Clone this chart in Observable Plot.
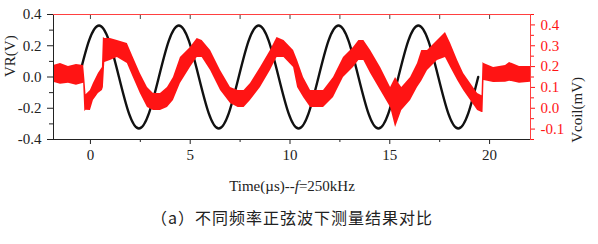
<!DOCTYPE html>
<html><head><meta charset="utf-8">
<script src="https://cdn.jsdelivr.net/npm/d3@7"></script>
<script src="https://cdn.jsdelivr.net/npm/@observablehq/plot@0.6"></script>
<style>body{margin:0;background:#fff;} svg text{font-family:"Liberation Serif","Times New Roman",serif;}</style>
</head><body><div id="chart"></div>
<script>
// Tick values
const xMajor = [0, 5, 10, 15, 20];
const xMinor = [2.5, 7.5, 12.5, 17.5];
const xTop = [0, 2.5, 5, 7.5, 10, 12.5, 15, 17.5, 20];
const leftMajor = [-0.4, -0.2, 0, 0.2, 0.4];
const leftMinor = [-0.3, -0.1, 0.1, 0.3];
const rightMajor = [-0.1, 0, 0.1, 0.2, 0.3, 0.4];
const rightMinor = [-0.15, -0.05, 0.05, 0.15, 0.25, 0.35, 0.45];

// VR(V): black excitation trace (read points)
const vrT = [-0.57,-0.07,0.43,0.93,1.43,1.93,2.43,2.93,3.43,3.93,4.43,4.93,5.43,5.93,6.43,6.93,7.43,7.93,8.43,8.93,9.43,9.93,10.43,10.93,11.43,11.93,12.43,12.93,13.43,13.93,14.43,14.93,15.43,15.93,16.43,16.93,17.43,17.93,18.43,18.93,19.43];
const vrV = [0,0.233,0.33,0.233,0,-0.233,-0.33,-0.233,0,0.233,0.33,0.233,0,-0.233,-0.33,-0.233,0,0.233,0.33,0.233,0,-0.233,-0.33,-0.233,0,0.233,0.33,0.233,0,-0.233,-0.33,-0.233,0,0.233,0.33,0.233,0,-0.233,-0.33,-0.233,0];

// Vcoil(mV): red noisy trace, lower / upper envelope of the band
const coilT = [-1.85,-1.5,-1.1,-0.7,-0.34,-0.28,-0.22,0.0,0.15,0.40,0.60,0.65,0.72,1.0,1.35,1.85,2.15,2.5,2.86,3.16,3.51,3.86,4.16,4.51,5.01,5.35,5.6,6.02,6.52,7.02,7.4,7.7,8.02,8.52,9.02,9.35,9.7,10.18,10.38,10.68,11.03,11.38,11.68,12.18,12.68,13.18,13.45,13.7,14.04,14.54,15.04,15.29,15.45,15.6,16.04,16.39,16.6,16.89,17.39,17.79,18.05,18.4,18.7,19.05,19.4,19.62,19.67,19.72,20.2,20.8,21.0,21.5,22.05];
const coilLo = [0.125,0.115,0.12,0.11,0.12,-0.015,-0.01,-0.011,0.037,0.071,0.085,0.10,0.22,0.229,0.244,0.215,0.148,0.071,0.004,-0.011,-0.011,0.004,0.037,0.119,0.196,0.244,0.244,0.181,0.085,0.023,0.004,0.004,0.037,0.10,0.181,0.244,0.244,0.196,0.10,0.052,0.004,0.004,0.004,0.052,0.148,0.196,0.229,0.229,0.167,0.085,0.004,-0.092,-0.05,-0.011,0.037,0.10,0.13,0.181,0.229,0.244,0.196,0.133,0.085,0.037,-0.011,-0.02,-0.02,0.133,0.124,0.125,0.13,0.12,0.125];
const coilHi = [0.205,0.215,0.20,0.21,0.205,0.14,0.065,0.085,0.119,0.167,0.196,0.34,0.335,0.335,0.325,0.311,0.244,0.167,0.10,0.071,0.071,0.10,0.148,0.244,0.292,0.335,0.325,0.277,0.181,0.10,0.085,0.085,0.119,0.196,0.277,0.34,0.325,0.277,0.229,0.148,0.085,0.085,0.085,0.148,0.244,0.292,0.325,0.325,0.277,0.196,0.10,0.148,0.12,0.10,0.148,0.215,0.277,0.277,0.325,0.364,0.311,0.229,0.167,0.119,0.071,0.06,0.22,0.215,0.196,0.205,0.22,0.20,0.20];

const xDomain = [-1.85, 22.05];
const leftDomain = [-0.4, 0.4];
const rightDomain = [-0.15, 0.45];

const xLabel = "Time(µs)--f=250kHz";
const yLabel = "VR(V)";
const y2Label = "Vcoil(mV)";
const caption = "（a）不同频率正弦波下测量结果对比";

// map right-axis (mV) values onto the left scale
const k = (leftDomain[1] - leftDomain[0]) / (rightDomain[1] - rightDomain[0]);
const toLeft = v => leftDomain[0] + (v - rightDomain[0]) * k;
const fromLeft = v => rightDomain[0] + (v - leftDomain[0]) / k;
const fmt1 = v => (Math.round(v * 1000) / 1000).toFixed(1);

const vr = vrT.map((t, i) => ({t, v: vrV[i]}));
const coil = coilT.map((t, i) => ({t, lo: toLeft(coilLo[i]), hi: toLeft(coilHi[i])}));

const SERIF = '"Liberation Serif", "Times New Roman", serif';
const RED = "#ff1414";
const ax = {fontFamily: SERIF, fontSize: 15, label: null};
const plot = Plot.plot({
  width: 598, height: 244,
  marginLeft: 53, marginRight: 68, marginTop: 14, marginBottom: 105,
  x: {domain: xDomain},
  y: {domain: leftDomain},
  style: {fontFamily: SERIF, fontSize: "15px", background: "#fff", color: "#222"},
  marks: [
    Plot.line(vr, {x: "t", y: "v", stroke: "#111", strokeWidth: 2.4, curve: "natural"}),
    Plot.areaY(coil, {x: "t", y1: "lo", y2: "hi", fill: RED}),
    Plot.frame({anchor: "bottom", stroke: "#222"}),
    Plot.frame({anchor: "left", stroke: "#222"}),
    Plot.frame({anchor: "top", stroke: "#ff4040"}),
    Plot.frame({anchor: "right", stroke: "#ff4040"}),
    Plot.axisX({...ax, ticks: xMajor, tickSize: 5, tickPadding: 5, tickFormat: d => String(d), color: "#222"}),
    Plot.axisX({...ax, ticks: xMinor, tickSize: 3, tickFormat: () => "", color: "#222"}),
    Plot.axisX({...ax, anchor: "top", ticks: xTop, tickSize: -4, tickFormat: () => "", color: "#444"}),
    Plot.axisY({...ax, ticks: leftMajor, tickSize: 6, tickPadding: 6, tickFormat: fmt1, color: "#222"}),
    Plot.axisY({...ax, ticks: leftMinor, tickSize: 4, tickFormat: () => "", color: "#222"}),
    Plot.axisY({...ax, anchor: "right", ticks: rightMajor.map(toLeft), tickSize: 4, tickPadding: 6, tickFormat: d => fmt1(fromLeft(d)), color: RED}),
    Plot.axisY({...ax, anchor: "right", ticks: rightMinor.map(toLeft), tickSize: 3, tickFormat: () => "", color: RED}),
    Plot.text([yLabel], {frameAnchor: "left", rotate: -90, dx: -43, fill: "#222", fontFamily: SERIF, fontSize: 15}),
    Plot.text([y2Label], {frameAnchor: "right", rotate: -90, dx: 47, fill: "#222", fontFamily: SERIF, fontSize: 15}),
    Plot.text([xLabel], {frameAnchor: "bottom", dy: 51, fill: "#222", fontFamily: SERIF, fontSize: 15}),
    Plot.text([caption], {frameAnchor: "bottom", dy: 84, fill: "#222", fontFamily: '"Noto Sans CJK SC", sans-serif', fontSize: 16})
  ]
});
document.getElementById("chart").appendChild(plot);

// italic "f" in the x label, letter spacing of the caption
d3.select(plot).selectAll("text").each(function () {
  const el = d3.select(this);
  if (el.text() === xLabel) {
    el.text(null);
    el.append("tspan").text("Time(µs)--");
    el.append("tspan").attr("font-style", "italic").text("f");
    el.append("tspan").text("=250kHz");
  } else if (el.text() === caption) {
    el.attr("letter-spacing", "1").style("font-family", '"Noto Sans CJK SC", sans-serif');
  }
});
</script>
</body></html>
